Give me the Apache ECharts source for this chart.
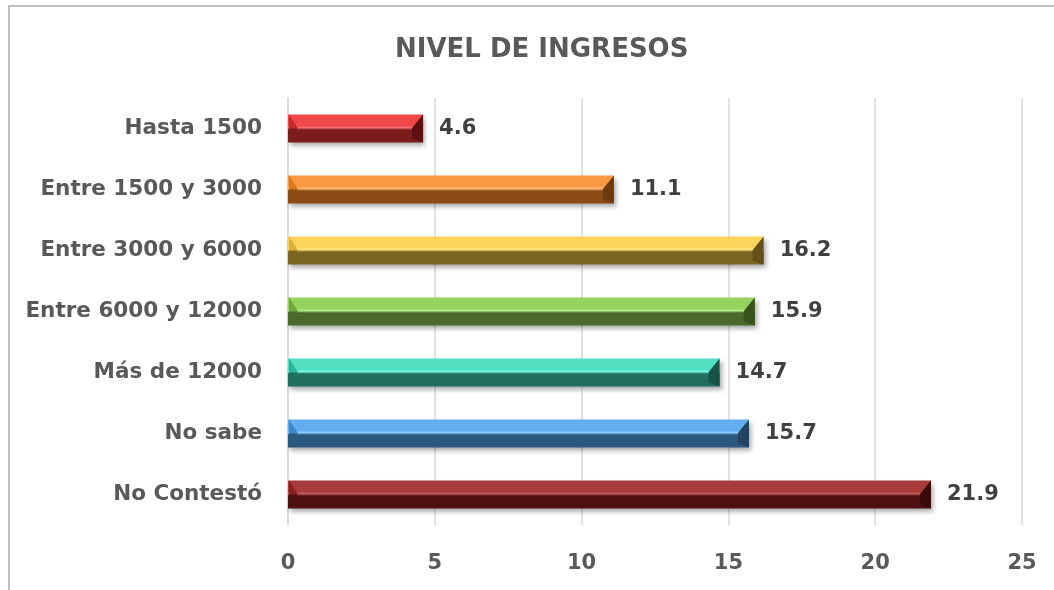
<!DOCTYPE html>
<html>
<head>
<meta charset="utf-8">
<script src="https://cdn.jsdelivr.net/npm/echarts@6/dist/echarts.min.js"></script>
<style>
  html, body { margin: 0; padding: 0; background: #fff; }
  #chart { width: 1054px; height: 590px; }
</style>
</head>
<body>
<div id="chart"></div>
<script>
const categories = ['Hasta 1500', 'Entre 1500 y 3000', 'Entre 3000 y 6000', 'Entre 6000 y 12000', 'Más de 12000', 'No sabe', 'No Contestó']
const values = [4.6, 11.1, 16.2, 15.9, 14.7, 15.7, 21.9]
const xTicks = [0, 5, 10, 15, 20, 25]

// top, highlight, bottom, left bevel, right bevel
const barColors = [
  ['#f04848', '#f87070', '#7c1c1c', '#c42a2a', '#5e1010'],
  ['#f99a42', '#ffb870', '#8a4c14', '#d8781e', '#6e3a0c'],
  ['#fdd45a', '#ffe888', '#7c6422', '#d8b038', '#645016'],
  ['#96d25e', '#b8ee88', '#4a6a2a', '#6ea83e', '#38521e'],
  ['#52e0c2', '#80f8e0', '#1f6e5e', '#2eb49a', '#175448'],
  ['#62aef0', '#8cd0ff', '#2c5880', '#3c88c8', '#204462'],
  ['#a83c3c', '#d06060', '#4e1010', '#8a2020', '#3a0a0a']
]

const font = 'DejaVu Sans'
const BAR_H = 28
const B = 11

function face(c) {
  return new echarts.graphic.LinearGradient(0, 0, 0, 1, [
    { offset: 0, color: c[0] },
    { offset: 0.4, color: c[0] },
    { offset: 0.47, color: c[1] },
    { offset: 0.55, color: c[2] },
    { offset: 1, color: c[2] }
  ])
}

// bevelled ends drawn on top of each bar
function renderEnds(params, api) {
  const i = api.value(1)
  const c = barColors[i]
  const p0 = api.coord([0, i])
  const p1 = api.coord([api.value(0), i])
  const top = p0[1] - BAR_H / 2
  const bot = p0[1] + BAR_H / 2
  const mid = top + BAR_H * 0.48
  const x0 = p0[0] + 1
  const x1 = p1[0]
  return {
    type: 'group',
    children: [{
      type: 'polygon',
      shape: { points: [[x0, top], [x0 + B * 0.8, mid], [x0, bot]] },
      style: {
        fill: new echarts.graphic.LinearGradient(0, 0, 0, 1, [
          { offset: 0, color: c[3] },
          { offset: 0.48, color: c[3] },
          { offset: 0.52, color: c[2] },
          { offset: 1, color: c[2] }
        ])
      }
    }, {
      type: 'polygon',
      shape: { points: [[x1, top], [x1, bot], [x1 - B, bot - 4], [x1 - B, mid]] },
      style: { fill: c[4] }
    }]
  }
}

const chart = echarts.init(document.getElementById('chart'))

chart.setOption({
  backgroundColor: '#fff',
  animation: false,
  textStyle: { fontFamily: font },
  title: {
    text: 'NIVEL DE INGRESOS',
    left: 390,
    top: 32,
    textStyle: { fontSize: 26, fontWeight: 'bold', color: '#595959', fontFamily: font }
  },
  graphic: [{
    type: 'rect',
    shape: { x: 9, y: 6, width: 1100, height: 700 },
    style: { fill: 'none', stroke: '#bfbfbf', lineWidth: 2 },
    silent: true
  }],
  grid: { left: 288, right: 32, top: 98, bottom: 65 },
  xAxis: {
    type: 'value',
    min: 0,
    max: xTicks[xTicks.length - 1],
    interval: 5,
    axisLine: { show: false },
    axisTick: { show: false },
    splitLine: { lineStyle: { color: '#d9d9d9', width: 1.5 } },
    axisLabel: {
      margin: 28,
      fontSize: 21,
      fontWeight: 'bold',
      color: '#595959'
    }
  },
  yAxis: {
    type: 'category',
    inverse: true,
    data: categories,
    axisLine: { show: true, lineStyle: { color: '#d9d9d9', width: 1.5 } },
    axisTick: { show: false },
    axisLabel: {
      margin: 26,
      fontSize: 21.5,
      fontWeight: 'bold',
      color: '#595959'
    }
  },
  series: [{
    type: 'bar',
    barWidth: BAR_H,
    data: values.map((v, i) => ({
      value: v,
      itemStyle: {
        color: face(barColors[i]),
        shadowColor: 'rgba(0,0,0,0.35)',
        shadowBlur: 5,
        shadowOffsetX: 2,
        shadowOffsetY: 3
      }
    })),
    label: {
      show: true,
      position: 'right',
      distance: 16,
      fontSize: 21,
      fontWeight: 'bold',
      color: '#404040',
      fontFamily: font
    }
  }, {
    type: 'custom',
    renderItem: renderEnds,
    encode: { x: 0, y: 1 },
    silent: true,
    z: 3,
    data: values.map((v, i) => [v, i])
  }]
})
</script>
</body>
</html>
